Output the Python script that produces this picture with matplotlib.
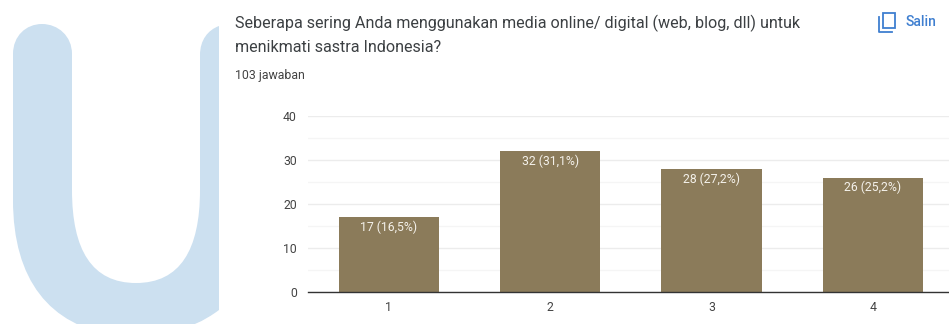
import matplotlib
matplotlib.use('Agg')
import matplotlib.pyplot as plt
from matplotlib.patches import PathPatch, Rectangle
from matplotlib.path import Path

categories = [1, 2, 3, 4]
counts = [17, 32, 28, 26]
labels = ['17 (16,5%)', '32 (31,1%)', '28 (27,2%)', '26 (25,2%)']
yticks = [0, 10, 20, 30, 40]
minor_yticks = [5, 15, 25, 35]
title_lines = ['Seberapa sering Anda menggunakan media online/ digital (web, blog, dll) untuk',
               'menikmati sastra Indonesia?']
answers = '103 jawaban'
copy_label = 'Salin'

W, H = 949, 324
BAR = '#8b7b5a'
BLUE = '#3f7fd0'
plt.rcParams['font.family'] = ['Roboto', 'DejaVu Sans']

fig = plt.figure(figsize=(W / 100, H / 100), dpi=100, facecolor='white')

# full-figure axes in pixel units, for the header and the big letter
bg = fig.add_axes([0, 0, 1, 1])
bg.set_xlim(0, W)
bg.set_ylim(H, 0)
bg.axis('off')

verts = [
    (13, 54), (13, 36), (26, 24), (42, 24),
    (58, 24), (72, 36), (72, 54),
    (72, 190),
    (72, 250), (92, 283), (136, 283),
    (180, 283), (200, 250), (200, 190),
    (200, 55),
    (200, 40), (208, 30), (219, 26),
    (219, 310),
    (190, 332), (150, 340), (115, 335),
    (50, 326), (13, 280), (13, 200),
    (13, 54),
]
codes = [Path.MOVETO] + [Path.CURVE4] * 6 + [Path.LINETO] + [Path.CURVE4] * 6 + [Path.LINETO] \
    + [Path.CURVE4] * 3 + [Path.LINETO] + [Path.CURVE4] * 6 + [Path.LINETO]
bg.add_patch(PathPatch(Path(verts, codes), fc='#cce0f0', ec='none'))

bg.text(235, 23, title_lines[0], fontsize=11.6, color='#3c4043', va='center', ha='left')
bg.text(235, 47, title_lines[1], fontsize=11.6, color='#3c4043', va='center', ha='left')
bg.text(235, 75, answers, fontsize=8.9, color='#444444', va='center', ha='left')
bg.text(906, 22, copy_label, fontsize=10, color=BLUE, va='center', ha='left', fontweight='medium')

# copy icon
bg.add_patch(Rectangle((883, 13), 12, 15, fc='none', ec=BLUE, lw=1.3))
bg.plot([879.5, 879.5, 892], [17, 31.5, 31.5], color=BLUE, lw=1.3)

# bar chart
ax = fig.add_axes([308 / W, (H - 292) / H, (W - 308) / W, 176 / H])
ax.patch.set_alpha(0)
ax.bar(categories, counts, width=0.62, color=BAR, zorder=3)
ax.set_xlim(0.5, 0.5 + (W - 308) / 161.4)
ax.set_ylim(0, 40)
ax.set_yticks(yticks)
ax.set_yticks(minor_yticks, minor=True)
ax.set_xticks(categories)
ax.grid(axis='y', which='major', color='#ececec', lw=1, zorder=0)
ax.grid(axis='y', which='minor', color='#f5f5f5', lw=1, zorder=0)
ax.tick_params(which='both', length=0)
ax.tick_params(axis='y', labelsize=8.8, labelcolor='#444444', pad=8)
ax.tick_params(axis='x', labelsize=8.8, labelcolor='#444444', pad=6.5)
for s in ['top', 'right', 'left']:
    ax.spines[s].set_visible(False)
ax.spines['bottom'].set_color('#333333')
ax.spines['bottom'].set_linewidth(1)
ax.spines['bottom'].set_zorder(5)

for c, v, t in zip(categories, counts, labels):
    ax.annotate(t, (c, v), xytext=(0, -2.5), textcoords='offset points', ha='center', va='top',
                color='#f4f1ea', fontsize=8.8, zorder=4)

fig.savefig('out.png', dpi=100)
